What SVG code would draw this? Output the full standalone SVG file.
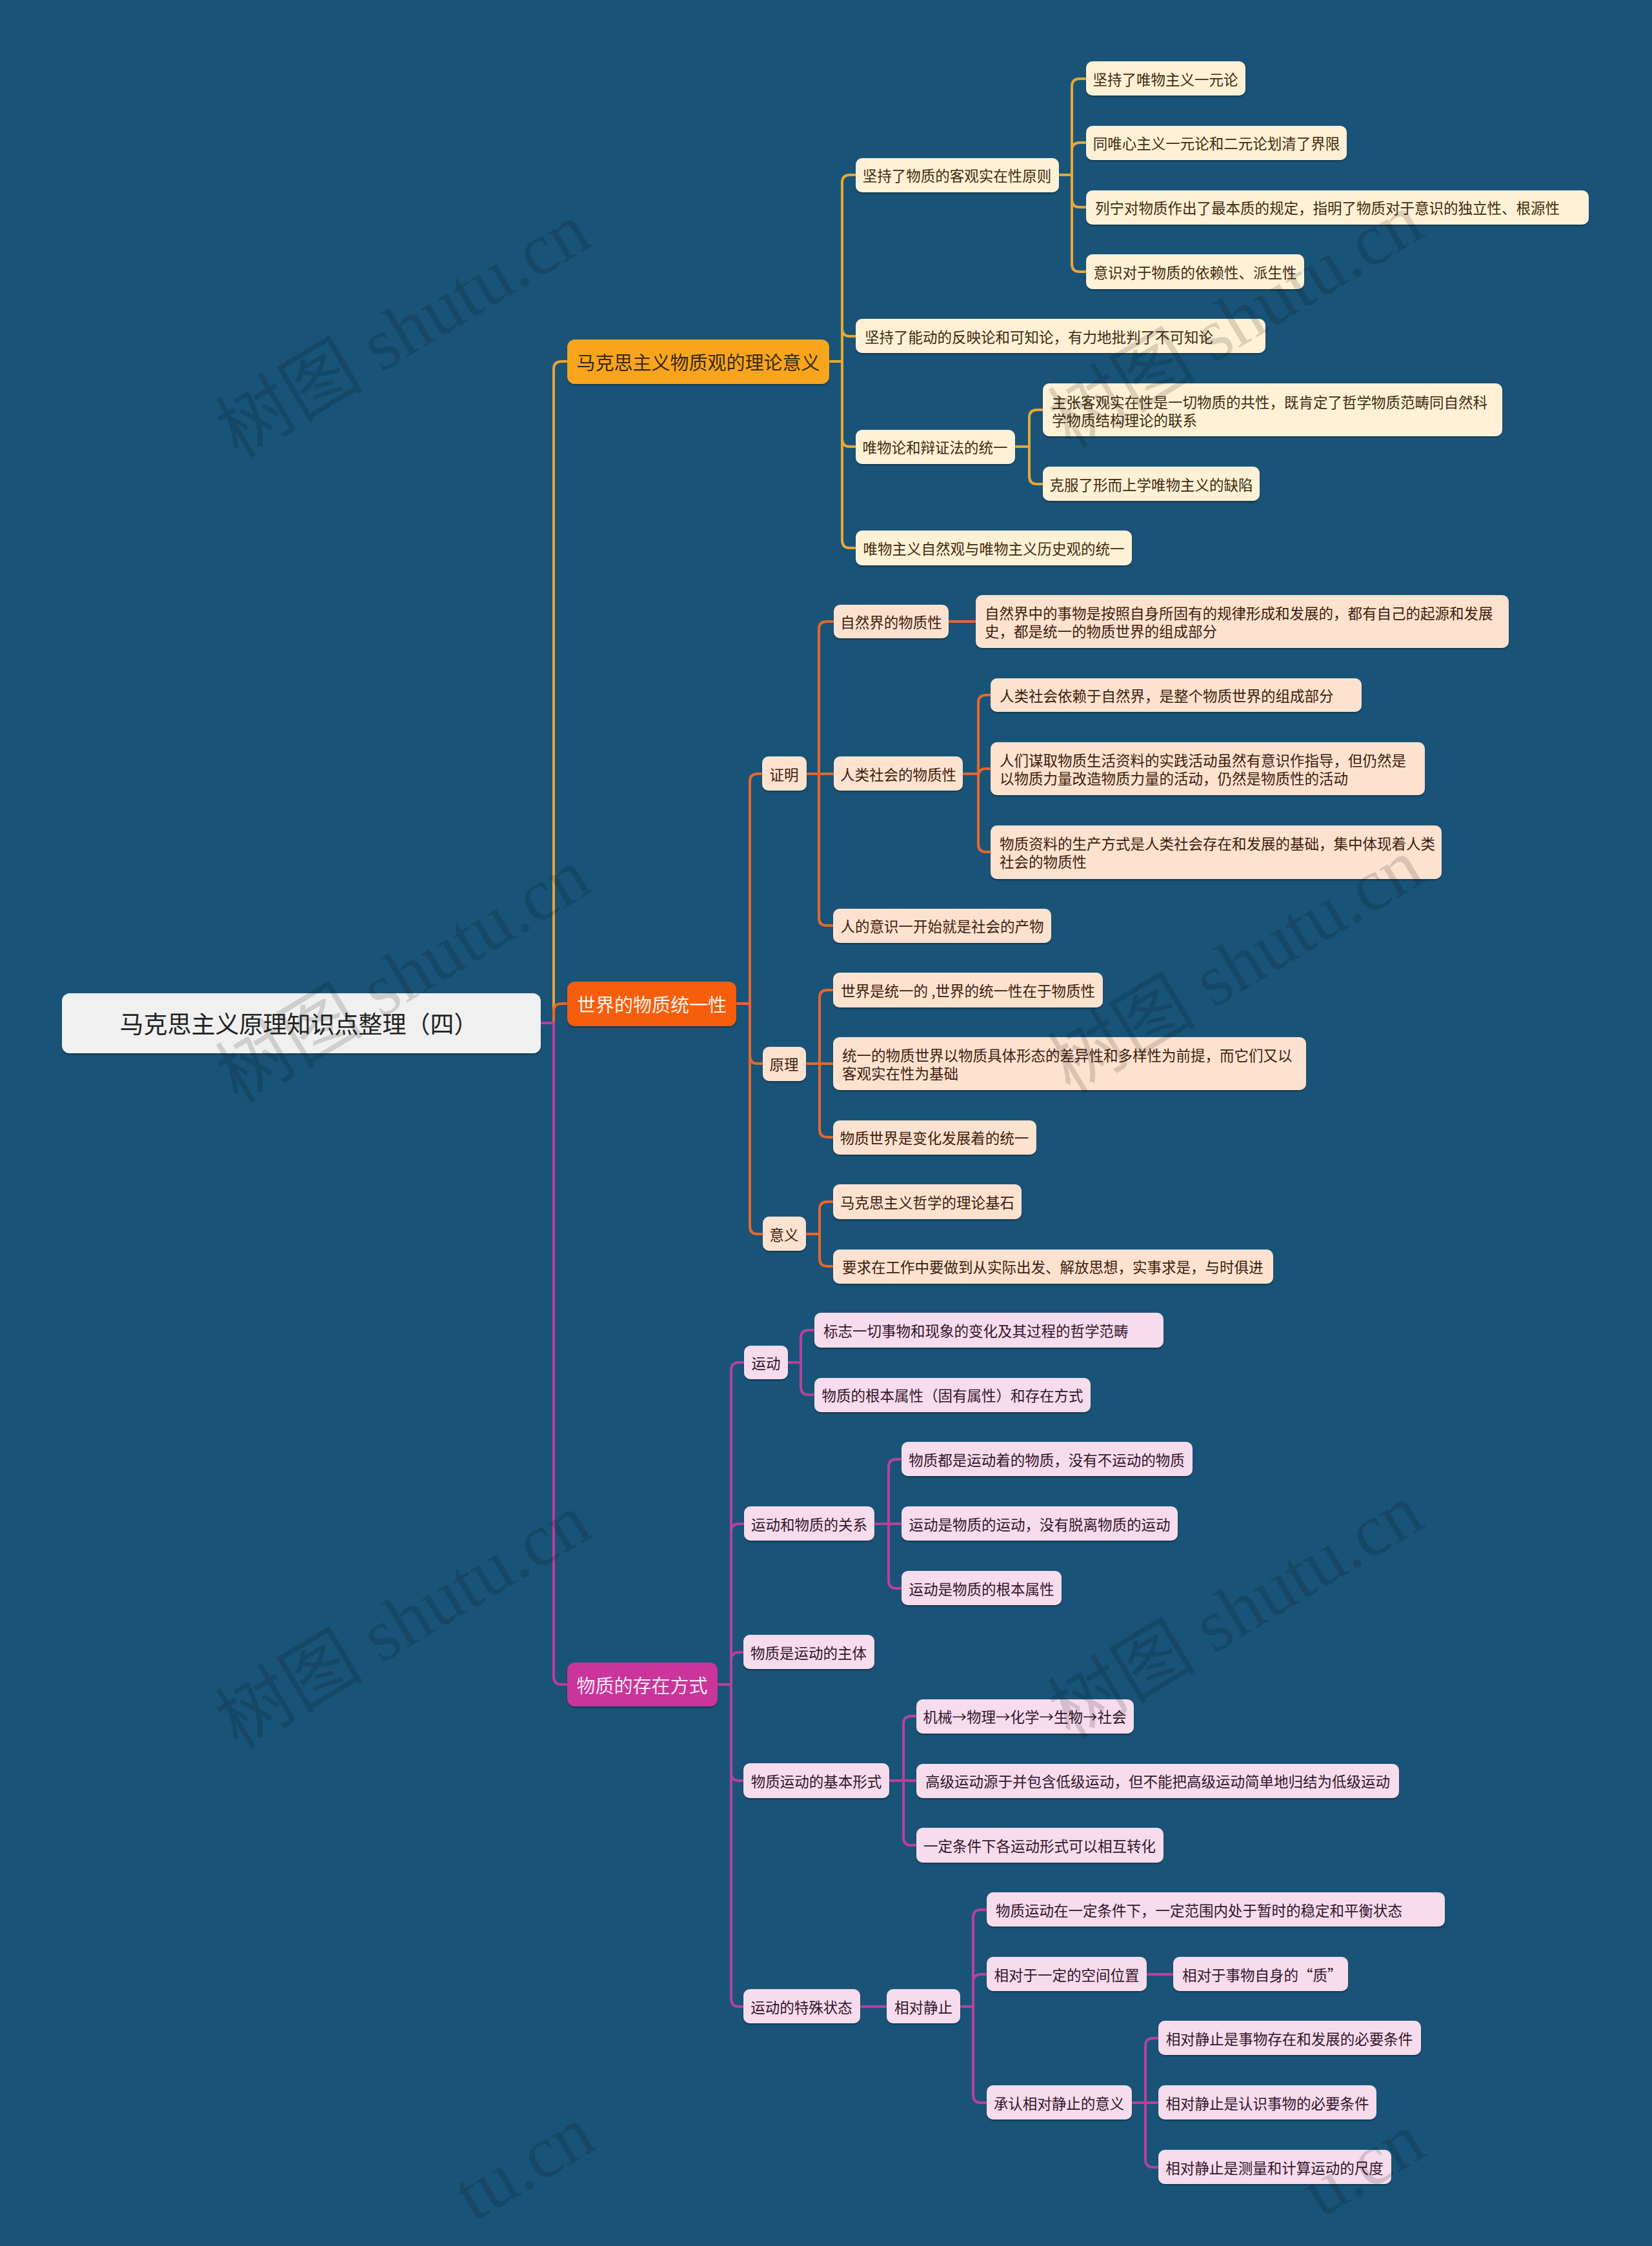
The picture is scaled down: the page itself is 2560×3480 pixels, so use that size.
<svg xmlns="http://www.w3.org/2000/svg" width="2560" height="3480" viewBox="0 0 2560 3480">
<defs>
<filter id="sh" x="-5%" y="-20%" width="110%" height="150%">
<feDropShadow dx="0" dy="2" stdDeviation="1" flood-color="#000" flood-opacity="0.35"/>
</filter>
</defs>
<style>
text{font-family:"Noto Sans CJK SC","Noto Sans",sans-serif;dominant-baseline:central}
.bx{filter:url(#sh)}
.a{fill:#FEF1D6}.b{fill:#FDE2D0}.c{fill:#F6DCEC}
.ta{fill:#3F2A0E;font-size:22.5px}.tb{fill:#3D1C0C;font-size:22.5px}.tc{fill:#33142B;font-size:22.5px}
.m{text-anchor:middle}
.ln{fill:none;stroke-width:4;stroke-linecap:round;stroke-linejoin:round}
.la{stroke:#E9A733}.lb{stroke:#E8672A}.lc{stroke:#B9409C}
.wm{font-family:"Liberation Serif","Noto Sans CJK SC",serif;font-size:115px;fill:#000;fill-opacity:0.14;dominant-baseline:auto;text-anchor:middle}
.ws{text-anchor:start}
</style>
<rect width="2560" height="3480" fill="#195478"/>
<g id="connectors">
<path class="ln" stroke="#EBA431" stroke-width="5" d="M838 1585H858V572Q858 560 870 560H879"/>
<path class="ln" stroke="#F0661F" stroke-width="5" d="M838 1585H858V1567Q858 1555 870 1555H879"/>
<path class="ln" stroke="#C23A9C" stroke-width="5" d="M838 1585H858V2598Q858 2610 870 2610H879"/>
<path class="ln la" d="M1285 560H1305V283Q1305 271 1317 271H1326M1305 560V509Q1305 521 1317 521H1326M1305 560V680Q1305 692 1317 692H1326M1305 560V837Q1305 849 1317 849H1326"/>
<path class="ln la" d="M1641 271H1661V134Q1661 122 1673 122H1683M1661 271V233Q1661 221 1673 221H1683M1661 271V309Q1661 321 1673 321H1683M1661 271V409Q1661 421 1673 421H1683"/>
<path class="ln la" d="M1573 692H1595V647Q1595 635 1607 635H1616M1595 692V738Q1595 750 1607 750H1616"/>
<path class="ln lb" d="M1141 1555H1162V1211Q1162 1199 1174 1199H1181M1162 1555V1636Q1162 1648 1174 1648H1182M1162 1555V1900Q1162 1912 1174 1912H1182"/>
<path class="ln lb" d="M1250 1199H1269V975Q1269 963 1281 963H1292M1250 1199H1292M1269 1199V1422Q1269 1434 1281 1434H1291"/>
<path class="ln lb" d="M1470 963H1512"/>
<path class="ln lb" d="M1492 1199H1516V1089Q1516 1077 1528 1077H1535M1516 1199V1203Q1516 1191 1528 1191H1535M1516 1199V1308Q1516 1320 1528 1320H1535"/>
<path class="ln lb" d="M1249 1648H1270V1546Q1270 1534 1282 1534H1291M1249 1648H1291M1270 1648V1750Q1270 1762 1282 1762H1291"/>
<path class="ln lb" d="M1249 1912H1270V1874Q1270 1862 1282 1862H1291M1270 1912V1950Q1270 1962 1282 1962H1291"/>
<path class="ln lc" d="M1112 2610H1133V2123Q1133 2111 1145 2111H1153M1133 2610V2373Q1133 2361 1145 2361H1153M1133 2610V2572Q1133 2560 1145 2560H1152M1133 2610V2747Q1133 2759 1145 2759H1152M1133 2610V3097Q1133 3109 1145 3109H1152"/>
<path class="ln lc" d="M1221 2111H1241V2073Q1241 2061 1253 2061H1262M1241 2111V2149Q1241 2161 1253 2161H1262"/>
<path class="ln lc" d="M1355 2361H1377V2273Q1377 2261 1389 2261H1397M1355 2361H1397M1377 2361V2449Q1377 2461 1389 2461H1397"/>
<path class="ln lc" d="M1378 2759H1400V2671Q1400 2659 1412 2659H1420M1378 2759H1420M1400 2759V2847Q1400 2859 1412 2859H1420"/>
<path class="ln lc" d="M1333 3109H1374"/>
<path class="ln lc" d="M1488 3109H1508V2971Q1508 2959 1520 2959H1529M1508 3109V3071Q1508 3059 1520 3059H1529M1508 3109V3246Q1508 3258 1520 3258H1529"/>
<path class="ln lc" d="M1777 3059H1818"/>
<path class="ln lc" d="M1754 3258H1775V3170Q1775 3158 1787 3158H1795M1754 3258H1795M1775 3258V3346Q1775 3358 1787 3358H1795"/>
</g>
<g id="root"><rect class="bx" x="96" y="1539" width="742" height="93" rx="12" fill="#F0F0F0"/><text class="m" x="463" y="1585" font-size="37" fill="#222">马克思主义原理知识点整理（四）</text></g>
<g id="A"><rect class="bx" x="879" y="526" width="406" height="69" rx="12" fill="#F7A51F"/><text class="m" x="1082" y="560" font-size="29" fill="#3A2A12">马克思主义物质观的理论意义</text></g>
<g id="B"><rect class="bx" x="879" y="1521" width="262" height="69" rx="12" fill="#F65D0B"/><text class="m" x="1010" y="1555" font-size="29" fill="#FFF3E8">世界的物质统一性</text></g>
<g id="C"><rect class="bx" x="879" y="2576" width="233" height="68" rx="12" fill="#C9369A"/><text class="m" x="995" y="2610" font-size="29" fill="#FBE6F3">物质的存在方式</text></g>

<g id="t1"><rect class="bx a" x="1326" y="245" width="315" height="53" rx="10"/><text class="ta m" x="1483" y="271">坚持了物质的客观实在性原则</text></g>
<g id="t1a"><rect class="bx a" x="1683" y="95" width="247" height="53" rx="10"/><text class="ta m" x="1806" y="122">坚持了唯物主义一元论</text></g>
<g id="t1b"><rect class="bx a" x="1683" y="195" width="404" height="53" rx="10"/><text class="ta m" x="1885" y="221">同唯心主义一元论和二元论划清了界限</text></g>
<g id="t1c"><rect class="bx a" x="1683" y="295" width="779" height="53" rx="10"/><text class="ta" x="1697" y="321">列宁对物质作出了最本质的规定，指明了物质对于意识的独立性、根源性</text></g>
<g id="t1d"><rect class="bx a" x="1683" y="394" width="338" height="54" rx="10"/><text class="ta m" x="1852" y="421">意识对于物质的依赖性、派生性</text></g>
<g id="t2"><rect class="bx a" x="1326" y="494" width="635" height="53" rx="10"/><text class="ta" x="1340" y="521">坚持了能动的反映论和可知论，有力地批判了不可知论</text></g>
<g id="t3"><rect class="bx a" x="1326" y="666" width="247" height="53" rx="10"/><text class="ta m" x="1449" y="692">唯物论和辩证法的统一</text></g>
<g id="t3a"><rect class="bx a" x="1616" y="594" width="712" height="82" rx="10"/><text class="ta" x="1630" y="622">主张客观实在性是一切物质的共性，既肯定了哲学物质范畴同自然科</text><text class="ta" x="1630" y="650">学物质结构理论的联系</text></g>
<g id="t3b"><rect class="bx a" x="1616" y="723" width="336" height="53" rx="10"/><text class="ta m" x="1784" y="750">克服了形而上学唯物主义的缺陷</text></g>
<g id="t4"><rect class="bx a" x="1326" y="822" width="428" height="54" rx="10"/><text class="ta m" x="1540" y="849">唯物主义自然观与唯物主义历史观的统一</text></g>

<g id="m1"><rect class="bx b" x="1181" y="1172" width="69" height="53" rx="10"/><text class="tb m" x="1215" y="1199">证明</text></g>
<g id="m1a"><rect class="bx b" x="1292" y="937" width="178" height="52" rx="10"/><text class="tb m" x="1381" y="963">自然界的物质性</text></g>
<g id="m1a1"><rect class="bx b" x="1512" y="922" width="826" height="82" rx="10"/><text class="tb" x="1526" y="949">自然界中的事物是按照自身所固有的规律形成和发展的，都有自己的起源和发展</text><text class="tb" x="1526" y="977">史，都是统一的物质世界的组成部分</text></g>
<g id="m1b"><rect class="bx b" x="1292" y="1172" width="200" height="53" rx="10"/><text class="tb m" x="1392" y="1199">人类社会的物质性</text></g>
<g id="m1b1"><rect class="bx b" x="1535" y="1051" width="575" height="52" rx="10"/><text class="tb" x="1549" y="1077">人类社会依赖于自然界，是整个物质世界的组成部分</text></g>
<g id="m1b2"><rect class="bx b" x="1535" y="1150" width="673" height="82" rx="10"/><text class="tb" x="1549" y="1177">人们谋取物质生活资料的实践活动虽然有意识作指导，但仍然是</text><text class="tb" x="1549" y="1205">以物质力量改造物质力量的活动，仍然是物质性的活动</text></g>
<g id="m1b3"><rect class="bx b" x="1535" y="1279" width="699" height="83" rx="10"/><text class="tb" x="1549" y="1306">物质资料的生产方式是人类社会存在和发展的基础，集中体现着人类</text><text class="tb" x="1549" y="1334">社会的物质性</text></g>
<g id="m1c"><rect class="bx b" x="1291" y="1408" width="338" height="53" rx="10"/><text class="tb m" x="1460" y="1434">人的意识一开始就是社会的产物</text></g>
<g id="m2"><rect class="bx b" x="1182" y="1622" width="67" height="53" rx="10"/><text class="tb m" x="1215" y="1648">原理</text></g>
<g id="m2a"><rect class="bx b" x="1291" y="1507" width="418" height="54" rx="10"/><text class="tb m" x="1500" y="1534">世界是统一的 ,世界的统一性在于物质性</text></g>
<g id="m2b"><rect class="bx b" x="1291" y="1607" width="733" height="82" rx="10"/><text class="tb" x="1305" y="1634">统一的物质世界以物质具体形态的差异性和多样性为前提，而它们又以</text><text class="tb" x="1305" y="1662">客观实在性为基础</text></g>
<g id="m2c"><rect class="bx b" x="1291" y="1736" width="315" height="53" rx="10"/><text class="tb m" x="1448" y="1762">物质世界是变化发展着的统一</text></g>
<g id="m3"><rect class="bx b" x="1182" y="1885" width="67" height="53" rx="10"/><text class="tb m" x="1215" y="1912">意义</text></g>
<g id="m3a"><rect class="bx b" x="1291" y="1835" width="292" height="54" rx="10"/><text class="tb m" x="1437" y="1862">马克思主义哲学的理论基石</text></g>
<g id="m3b"><rect class="bx b" x="1291" y="1936" width="682" height="53" rx="10"/><text class="tb" x="1305" y="1962">要求在工作中要做到从实际出发、解放思想，实事求是，与时俱进</text></g>

<g id="b1"><rect class="bx c" x="1153" y="2085" width="68" height="52" rx="10"/><text class="tc m" x="1187" y="2111">运动</text></g>
<g id="b1a"><rect class="bx c" x="1262" y="2034" width="541" height="54" rx="10"/><text class="tc" x="1276" y="2061">标志一切事物和现象的变化及其过程的哲学范畴</text></g>
<g id="b1b"><rect class="bx c" x="1262" y="2135" width="428" height="53" rx="10"/><text class="tc m" x="1476" y="2161">物质的根本属性（固有属性）和存在方式</text></g>
<g id="b2"><rect class="bx c" x="1153" y="2334" width="202" height="53" rx="10"/><text class="tc m" x="1254" y="2361">运动和物质的关系</text></g>
<g id="b2a"><rect class="bx c" x="1397" y="2234" width="451" height="53" rx="10"/><text class="tc m" x="1622" y="2261">物质都是运动着的物质，没有不运动的物质</text></g>
<g id="b2b"><rect class="bx c" x="1397" y="2334" width="428" height="53" rx="10"/><text class="tc m" x="1611" y="2361">运动是物质的运动，没有脱离物质的运动</text></g>
<g id="b2c"><rect class="bx c" x="1397" y="2434" width="248" height="53" rx="10"/><text class="tc m" x="1521" y="2461">运动是物质的根本属性</text></g>
<g id="b3"><rect class="bx c" x="1152" y="2533" width="203" height="53" rx="10"/><text class="tc m" x="1253" y="2560">物质是运动的主体</text></g>
<g id="b4"><rect class="bx c" x="1152" y="2732" width="226" height="54" rx="10"/><text class="tc m" x="1265" y="2759">物质运动的基本形式</text></g>
<g id="b4a"><rect class="bx c" x="1420" y="2633" width="337" height="53" rx="10"/><text class="tc m" x="1588" y="2659">机械→物理→化学→生物→社会</text></g>
<g id="b4b"><rect class="bx c" x="1420" y="2733" width="748" height="53" rx="10"/><text class="tc" x="1434" y="2759">高级运动源于并包含低级运动，但不能把高级运动简单地归结为低级运动</text></g>
<g id="b4c"><rect class="bx c" x="1420" y="2832" width="383" height="54" rx="10"/><text class="tc m" x="1611" y="2859">一定条件下各运动形式可以相互转化</text></g>
<g id="b5"><rect class="bx c" x="1152" y="3082" width="181" height="53" rx="10"/><text class="tc m" x="1242" y="3109">运动的特殊状态</text></g>
<g id="b5a"><rect class="bx c" x="1374" y="3082" width="114" height="53" rx="10"/><text class="tc m" x="1431" y="3109">相对静止</text></g>
<g id="b5a1"><rect class="bx c" x="1529" y="2932" width="710" height="53" rx="10"/><text class="tc" x="1543" y="2959">物质运动在一定条件下，一定范围内处于暂时的稳定和平衡状态</text></g>
<g id="b5a2"><rect class="bx c" x="1529" y="3032" width="248" height="53" rx="10"/><text class="tc m" x="1653" y="3059">相对于一定的空间位置</text></g>
<g id="b5a2a"><rect class="bx c" x="1818" y="3032" width="271" height="53" rx="10"/><text class="tc" x="1832" y="3059">相对于事物自身的“质”</text></g>
<g id="b5a3"><rect class="bx c" x="1529" y="3231" width="225" height="53" rx="10"/><text class="tc m" x="1641" y="3258">承认相对静止的意义</text></g>
<g id="b5a3a"><rect class="bx c" x="1795" y="3131" width="407" height="53" rx="10"/><text class="tc m" x="1998" y="3158">相对静止是事物存在和发展的必要条件</text></g>
<g id="b5a3b"><rect class="bx c" x="1795" y="3231" width="338" height="53" rx="10"/><text class="tc m" x="1964" y="3258">相对静止是认识事物的必要条件</text></g>
<g id="b5a3c"><rect class="bx c" x="1795" y="3331" width="361" height="53" rx="10"/><text class="tc m" x="1975" y="3358">相对静止是测量和计算运动的尺度</text></g>

<g id="watermark">
<text class="wm" transform="translate(645 545) rotate(-31)">树图 shutu.cn</text>
<text class="wm" transform="translate(1935 530) rotate(-31)">树图 shutu.cn</text>
<text class="wm" transform="translate(645 1545) rotate(-31)">树图 shutu.cn</text>
<text class="wm" transform="translate(1935 1530) rotate(-31)">树图 shutu.cn</text>
<text class="wm" transform="translate(645 2545) rotate(-31)">树图 shutu.cn</text>
<text class="wm" transform="translate(1935 2530) rotate(-31)">树图 shutu.cn</text>
<text class="wm ws" transform="translate(734 3444) rotate(-31)">tu.cn</text>
<text class="wm ws" transform="translate(2047 3438) rotate(-31)">u.cn</text>
</g>
</svg>
